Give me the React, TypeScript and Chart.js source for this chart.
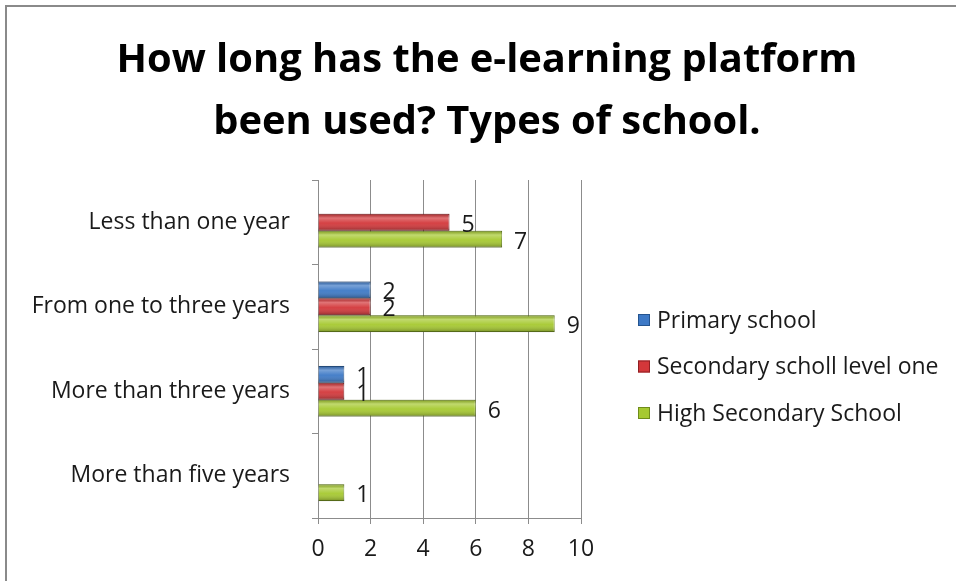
import React, { useEffect, useRef } from "react";
import { Chart, registerables } from "chart.js";

Chart.register(...registerables);

const TITLE_LINES = ["How long has the e-learning platform", "been used? Types of school."];
const CATEGORIES = ["Less than one year", "From one to three years", "More than three years", "More than five years"];
const SERIES_NAMES = ["Primary school", "Secondary scholl level one", "High Secondary School"];
const PRIMARY = [0, 2, 1, 0];
const SECONDARY = [5, 2, 1, 0];
const HIGH = [7, 9, 6, 1];
const X_TICKS = [0, 2, 4, 6, 8, 10];
const COLORS = ["#3d79c6", "#d3373a", "#a6c930"];
const BORDERS = ["#24548f", "#8f1f22", "#6f8c1a"];

const FONT = "'Open Sans', 'DejaVu Sans', sans-serif";
const TEXT_SIZE = 23;

const decorPlugin = {
  id: "decor",
  beforeDraw(chart: any) {
    const ctx = chart.ctx;
    ctx.save();
    ctx.fillStyle = "#ffffff";
    ctx.fillRect(0, 0, chart.width, chart.height);
    ctx.strokeStyle = "#8a8a8a";
    ctx.lineWidth = 2;
    ctx.beginPath();
    ctx.moveTo(6, chart.height);
    ctx.lineTo(6, 6);
    ctx.lineTo(chart.width, 6);
    ctx.stroke();
    ctx.restore();
  },
  afterDatasetsDraw(chart: any) {
    const ctx = chart.ctx;
    ctx.save();
    chart.data.datasets.forEach((ds: any, di: number) => {
      const meta = chart.getDatasetMeta(di);
      meta.data.forEach((el: any, i: number) => {
        const v = ds.data[i];
        if (!v) return;
        const top = el.y - el.height / 2;
        const g = ctx.createLinearGradient(0, top, 0, top + el.height);
        g.addColorStop(0, "rgba(0,0,0,0.18)");
        g.addColorStop(0.25, "rgba(255,255,255,0.30)");
        g.addColorStop(0.55, "rgba(255,255,255,0.05)");
        g.addColorStop(1, "rgba(0,0,0,0.30)");
        ctx.fillStyle = g;
        ctx.fillRect(el.base, top, el.x - el.base, el.height);
        ctx.fillStyle = "#1a1a1a";
        ctx.font = `${TEXT_SIZE}px ${FONT}`;
        ctx.textAlign = "left";
        ctx.textBaseline = "middle";
        ctx.fillText(String(v), el.x + 12, el.y + 3);
      });
    });
    ctx.restore();
  },
  afterDraw(chart: any) {
    const ctx = chart.ctx;
    ctx.save();
    // title
    ctx.fillStyle = "#000000";
    ctx.textAlign = "center";
    ctx.textBaseline = "middle";
    ctx.font = `bold 40px ${FONT}`;
    const widest = Math.max(...TITLE_LINES.map((t) => ctx.measureText(t).width));
    const sx = Math.min(1, 741 / widest);
    TITLE_LINES.forEach((t, i) => {
      ctx.save();
      ctx.translate(487, 61 + i * 62);
      ctx.scale(sx, 1);
      ctx.fillText(t, 0, 0);
      ctx.restore();
    });
    // legend
    ctx.font = `${TEXT_SIZE}px ${FONT}`;
    ctx.textAlign = "left";
    ctx.textBaseline = "middle";
    SERIES_NAMES.forEach((name, i) => {
      const cy = 320 + i * 46.5;
      ctx.fillStyle = COLORS[i];
      ctx.fillRect(638, cy - 6, 12, 12);
      ctx.strokeStyle = BORDERS[i];
      ctx.lineWidth = 1;
      ctx.strokeRect(638.5, cy - 5.5, 11, 11);
      ctx.fillStyle = "#1a1a1a";
      ctx.fillText(name, 657, cy + 1);
    });
    ctx.restore();
  },
};

export default function App() {
  const ref = useRef<HTMLCanvasElement>(null);
  useEffect(() => {
    const canvas = ref.current;
    if (!canvas) return;
    const mk = (vals: number[], i: number) => ({
      label: SERIES_NAMES[i],
      data: vals,
      backgroundColor: COLORS[i],
      borderColor: BORDERS[i],
      borderWidth: 1,
      categoryPercentage: 0.6,
      barPercentage: 1,
    });
    const chart = new Chart(canvas, {
      type: "bar",
      data: {
        labels: CATEGORIES,
        datasets: [mk(PRIMARY, 0), mk(SECONDARY, 1), mk(HIGH, 2)],
      },
      options: {
        indexAxis: "y",
        animation: false,
        responsive: false,
        devicePixelRatio: 1,
        layout: { padding: { left: 0, right: 375, top: 180, bottom: 0 } },
        plugins: {
          legend: { display: false },
          title: { display: false },
          tooltip: { enabled: false },
        },
        scales: {
          x: {
            min: 0,
            max: 10,
            afterFit: (s: any) => {
              s.height = 63;
            },
            afterBuildTicks: (s: any) => {
              s.ticks = X_TICKS.map((v) => ({ value: v }));
            },
            grid: { color: "#8c8c8c", lineWidth: 1, tickLength: 6, drawTicks: true },
            border: { color: "#8c8c8c", width: 1 },
            ticks: {
              color: "#1a1a1a",
              font: { family: FONT, size: TEXT_SIZE },
              padding: 12,
              maxRotation: 0,
            },
          },
          y: {
            afterFit: (s: any) => {
              s.width = 318;
            },
            grid: {
              drawOnChartArea: false,
              drawTicks: true,
              tickLength: 6,
              color: "#8c8c8c",
              offset: true,
            },
            border: { color: "#8c8c8c", width: 1 },
            ticks: {
              color: "#1a1a1a",
              font: { family: FONT, size: TEXT_SIZE },
              padding: 22,
            },
          },
        },
      },
      plugins: [decorPlugin],
    });
    return () => chart.destroy();
  }, []);
  return (
    <div style={{ position: "fixed", left: 0, top: 0, width: 956, height: 581, background: "#fff" }}>
      <canvas ref={ref} width={956} height={581} style={{ display: "block", width: 956, height: 581 }} />
    </div>
  );
}
